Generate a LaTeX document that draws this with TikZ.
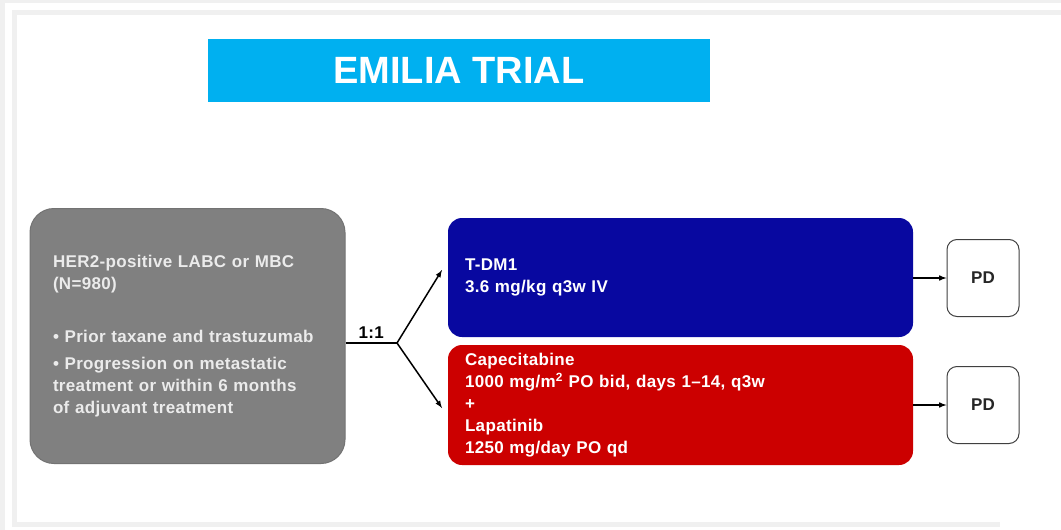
\documentclass[tikz,border=0pt]{standalone}
\usepackage{fontspec}
\setmainfont{Liberation Sans}
\usetikzlibrary{positioning}
\definecolor{titleblue}{RGB}{0,176,240}
\definecolor{armblue}{RGB}{8,8,160}
\definecolor{armred}{RGB}{204,0,0}
\definecolor{popgray}{RGB}{128,128,128}
\definecolor{framegray}{RGB}{240,240,240}

\begin{document}
\begin{tikzpicture}[x=1pt,y=-1pt]
\tikzstyle{every node}=[font=\bfseries\fontsize{17}{22}\selectfont\addfontfeatures{LetterSpace=2},inner sep=0pt]
\tikzstyle{arm}=[rectangle,rounded corners=14pt,minimum width=465pt,text width=431pt,align=left,text=white]
\tikzstyle{pd}=[rectangle,draw=black!75,line width=1pt,rounded corners=10pt,minimum width=72pt,minimum height=77pt,text=black!85]
\tikzstyle{link}=[-latex,line width=1.5pt]

\useasboundingbox (0,0) rectangle (1061,530);
\fill[white] (0,0) rectangle (1061,530);
% slide frame
\fill[framegray] (0,0) rectangle (5,530);
\fill[framegray] (0,0) rectangle (1061,3);
\fill[framegray] (12,10) rectangle (17,527);
\fill[framegray] (12,10) rectangle (1061,15);
\fill[framegray] (12,522) rectangle (1000,527);

\node (title) at (459,70.5) [fill=titleblue,minimum width=502pt,minimum height=63pt,text=white,font=\bfseries\fontsize{38}{38}\selectfont] {EMILIA TRIAL};

\begin{scope}
\node (pop) at (187.5,336) [rectangle,rounded corners=24pt,fill=popgray,draw=black!55,line width=1pt,minimum width=315pt,minimum height=255pt,text width=269pt,align=left,text=black!8]
{HER2-positive LABC or MBC\\(N=980)\\[31pt]\textbullet\ Prior taxane and trastuzumab\\[5pt]\textbullet\ Progression on metastatic\\treatment or within 6 months\\of adjuvant treatment};
\node (tdm) at (680.5,277.5) [arm,fill=armblue,minimum height=119pt] {T-DM1\\3.6 mg/kg q3w IV};
\node (cap) at (680.5,405) [arm,fill=armred,minimum height=120pt]
{Capecitabine\\1000 mg/m\textsuperscript{2} PO bid, days 1–14, q3w\\+\\Lapatinib\\1250 mg/day PO qd};
\node (pd1) at (983,278) [pd] {PD};
\node (pd2) at (983,405) [pd] {PD};

\coordinate (split) at (397,343);
\coordinate (to1) at (442,270);
\coordinate (to2) at (442,408);
\draw[line width=1.5pt] (pop.east |- split) -- node[above=4pt] {1:1} (split);
\draw[link] (split)--(to1);
\draw[link] (split)--(to2);
\draw[link] (tdm.east |- pd1.west)--(pd1.west);
\draw[link] (cap.east |- pd2.west)--(pd2.west);
\end{scope}

\end{tikzpicture}
\end{document}
